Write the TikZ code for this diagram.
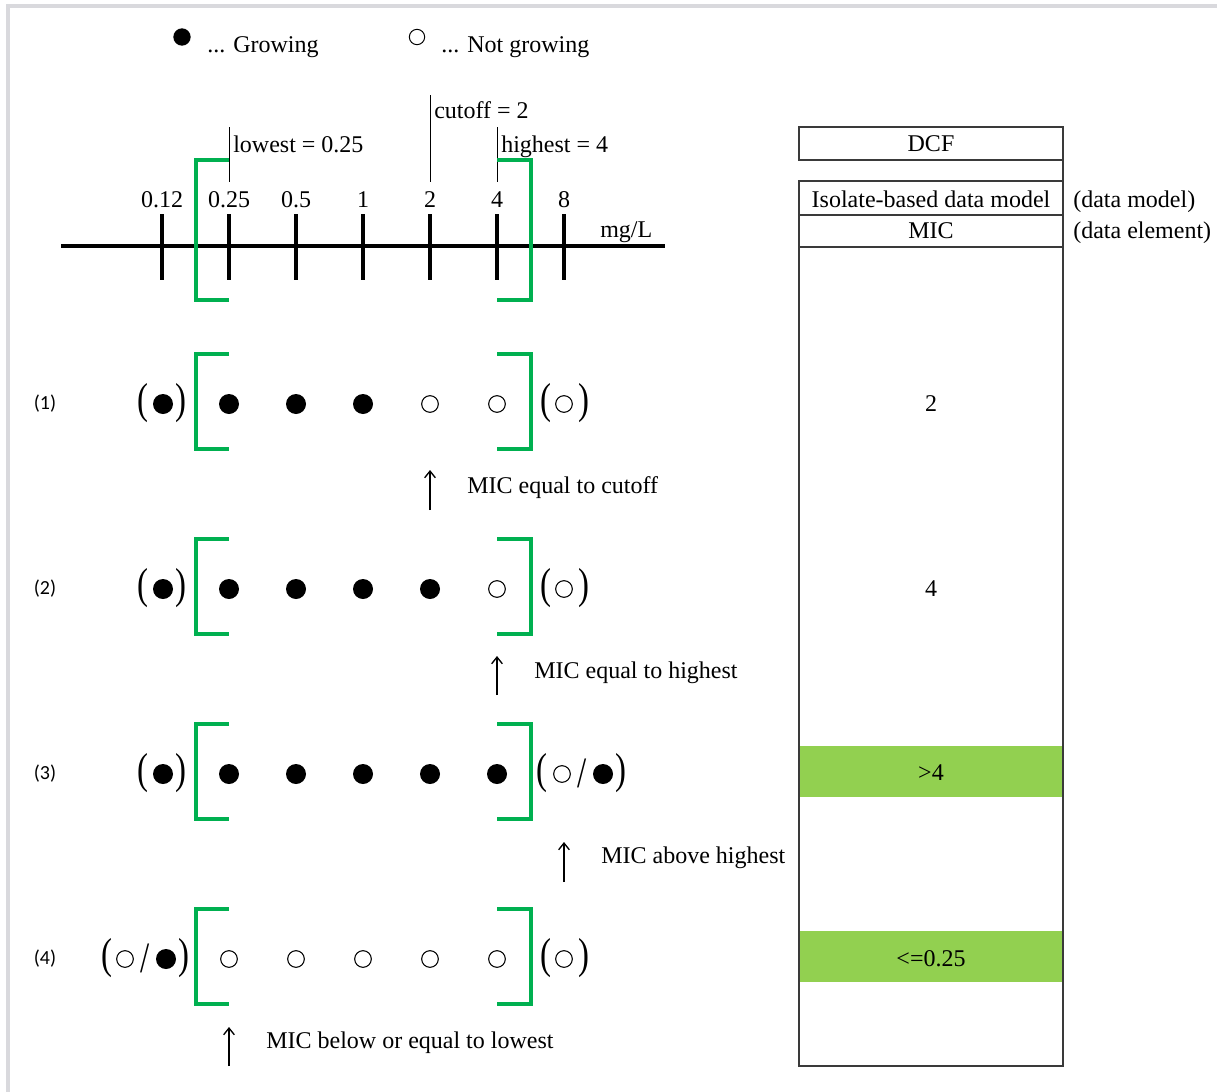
\documentclass[tikz,border=0pt]{standalone}
\usepackage{fontspec}
\setmainfont{Liberation Serif}
\newfontfamily\lblfont{Carlito}
\usetikzlibrary{arrows.meta}
\definecolor{brgreen}{HTML}{00B050}
\definecolor{bandgreen}{HTML}{92D050}
\definecolor{framegray}{HTML}{D9D9DD}
\definecolor{boxline}{HTML}{3A3A3A}
\newcommand{\tallglyph}[1]{\scalebox{0.85}[1.12]{#1}}
\begin{document}
\begin{tikzpicture}[x=0.75pt,y=-0.75pt,
  txt/.style={font=\fontsize{18}{20}\selectfont, inner sep=0pt},
  rowlbl/.style={font=\lblfont\fontsize{15}{17}\selectfont, inner sep=0pt},
  paren/.style={font=\fontsize{29}{31}\selectfont, inner sep=0pt},
  full/.style={circle, fill=black, minimum size=15pt, inner sep=0pt},
  hollow/.style={circle, draw=black, line width=0.8pt, minimum size=12.5pt, inner sep=0pt},
  tickline/.style={line width=3pt},
  bracket/.style={draw=brgreen, line width=3pt},
  marker/.style={line width=0.75pt},
  uparrow/.style={line width=1pt, -{Straight Barb[length=5pt,width=8pt]}},
  boxdraw/.style={draw=boxline, line width=1.1pt}
]
\useasboundingbox (0,0) rectangle (1217,1092);
% frame
\draw[framegray, line width=2.3pt] (8,1092) -- (8,6) -- (1217,6);

% legend
\node[full, minimum size=13pt] (lgfull) at (182,37) {};
\node[txt, anchor=base west] (lgfulltxt) at (207,52) {... Growing};
\node[hollow, minimum size=11.5pt, line width=0.75pt] (lghollow) at (417,37) {};
\node[txt, anchor=base west] (lghollowtxt) at (441,52) {... Not growing};

% axis
\coordinate (axL) at (61,246);
\coordinate (axR) at (665,246);
\draw[line width=2.3pt] (axL) -- (axR);
\foreach \i/\v in {0/0.12,1/0.25,2/0.5,3/1,4/2,5/4,6/8}{
  \pgfmathsetmacro{\xx}{162+67*\i}
  \node[txt, anchor=base] (tl\i) at (\xx,207) {\v};
  \coordinate (tt\i) at (\xx,214);
  \coordinate (tb\i) at (\xx,280);
  \draw[tickline] (tt\i) -- (tb\i);
}
\node[txt, anchor=base west] (unit) at (600,237) {mg/L};

% marker lines and labels
\coordinate (mlow) at (229,127);
\coordinate (mlowb) at (229,182);
\coordinate (mcut) at (430,95);
\coordinate (mcutb) at (430,182);
\coordinate (mhigh) at (497,127);
\coordinate (mhighb) at (497,182);
\draw[marker] (mlow) -- (mlowb);
\draw[marker] (mcut) -- (mcutb);
\draw[marker] (mhigh) -- (mhighb);
\node[txt, anchor=base west] (lowlbl) at (233,152) {lowest = 0.25};
\node[txt, anchor=base west] (cutlbl) at (434,118) {cutoff = 2};
\node[txt, anchor=base west] (highlbl) at (501,152) {highest = 4};

% axis brackets
\draw[bracket] (229,160) -- (196,160) -- (196,300) -- (229,300);
\draw[bracket] (497,160) -- (531,160) -- (531,300) -- (497,300);

% rows
\foreach \r/\yy in {1/404,2/589,3/774,4/959}{
  \node[rowlbl] (rl\r) at (45,\yy) {(\r)};
  \draw[bracket] (229,\yy-50) -- (196,\yy-50) -- (196,\yy+45) -- (229,\yy+45);
  \draw[bracket] (497,\yy-50) -- (531,\yy-50) -- (531,\yy+45) -- (497,\yy+45);
}

% row 1
\node[paren] (r1lo) at (143,403) {\tallglyph{(}};
\node[full] (r1l) at (163,404) {};
\node[paren] (r1lc) at (181,403) {\tallglyph{)}};
\node[full] (r1a) at (229,404) {};
\node[full] (r1b) at (296,404) {};
\node[full] (r1c) at (363,404) {};
\node[hollow] (r1d) at (430,404) {};
\node[hollow] (r1e) at (497,404) {};
\node[paren] (r1ro) at (546,403) {\tallglyph{(}};
\node[hollow] (r1r) at (564,404) {};
\node[paren] (r1rc) at (584,403) {\tallglyph{)}};

% row 2
\node[paren] (r2lo) at (143,588) {\tallglyph{(}};
\node[full] (r2l) at (163,589) {};
\node[paren] (r2lc) at (181,588) {\tallglyph{)}};
\node[full] (r2a) at (229,589) {};
\node[full] (r2b) at (296,589) {};
\node[full] (r2c) at (363,589) {};
\node[full] (r2d) at (430,589) {};
\node[hollow] (r2e) at (497,589) {};
\node[paren] (r2ro) at (546,588) {\tallglyph{(}};
\node[hollow] (r2r) at (564,589) {};
\node[paren] (r2rc) at (584,588) {\tallglyph{)}};

% row 3
\node[paren] (r3lo) at (143,773) {\tallglyph{(}};
\node[full] (r3l) at (163,774) {};
\node[paren] (r3lc) at (181,773) {\tallglyph{)}};
\node[full] (r3a) at (229,774) {};
\node[full] (r3b) at (296,774) {};
\node[full] (r3c) at (363,774) {};
\node[full] (r3d) at (430,774) {};
\node[full] (r3e) at (497,774) {};
\node[paren] (r3ro) at (542,773) {\tallglyph{(}};
\node[hollow] (r3r1) at (562,774) {};
\node[paren] (r3sl) at (582,773) {\tallglyph{/}};
\node[full] (r3r2) at (603,774) {};
\node[paren] (r3rc) at (621,773) {\tallglyph{)}};

% row 4
\node[paren] (r4lo) at (107,958) {\tallglyph{(}};
\node[hollow] (r4l1) at (125,959) {};
\node[paren] (r4sl) at (145,958) {\tallglyph{/}};
\node[full] (r4l2) at (166,959) {};
\node[paren] (r4lc) at (184,958) {\tallglyph{)}};
\node[hollow] (r4a) at (229,959) {};
\node[hollow] (r4b) at (296,959) {};
\node[hollow] (r4c) at (363,959) {};
\node[hollow] (r4d) at (430,959) {};
\node[hollow] (r4e) at (497,959) {};
\node[paren] (r4ro) at (546,958) {\tallglyph{(}};
\node[hollow] (r4r) at (564,959) {};
\node[paren] (r4rc) at (584,958) {\tallglyph{)}};

% arrows and their labels
\coordinate (a1s) at (430,510); \coordinate (a1e) at (430,470);
\coordinate (a2s) at (497,695); \coordinate (a2e) at (497,656);
\coordinate (a3s) at (564,882); \coordinate (a3e) at (564,842);
\coordinate (a4s) at (229,1066); \coordinate (a4e) at (229,1027);
\draw[uparrow] (a1s) -- (a1e);
\draw[uparrow] (a2s) -- (a2e);
\draw[uparrow] (a3s) -- (a3e);
\draw[uparrow] (a4s) -- (a4e);
\node[txt, anchor=base west] (a1t) at (467,493) {MIC equal to cutoff};
\node[txt, anchor=base west] (a2t) at (534,678) {MIC equal to highest};
\node[txt, anchor=base west] (a3t) at (601,863) {MIC above highest};
\node[txt, anchor=base west] (a4t) at (266,1048) {MIC below or equal to lowest};

% table
\fill[bandgreen] (799,746) rectangle (1063,797);
\fill[bandgreen] (799,931) rectangle (1063,982);
\draw[boxdraw] (799,127) rectangle (1063,160);
\draw[boxdraw] (1063,160) -- (1063,181);
\draw[boxdraw] (799,181) rectangle (1063,1066);
\draw[boxdraw] (799,215) -- (1063,215);
\draw[boxdraw] (799,247) -- (1063,247);
\node[txt, anchor=base] (dcf) at (931,151) {DCF};
\node[txt, anchor=base] (idm) at (931,207) {Isolate-based data model};
\node[txt, anchor=base] (mic) at (931,238) {MIC};
\node[txt, anchor=base west] (dm) at (1073,207) {(data model)};
\node[txt, anchor=base west] (de) at (1073,238) {(data element)};
\node[txt, anchor=base] (v1) at (931,411) {2};
\node[txt, anchor=base] (v2) at (931,596) {4};
\node[txt, anchor=base] (v3) at (931,780) {>4};
\node[txt, anchor=base] (v4) at (931,966) {<=0.25};
\end{tikzpicture}
\end{document}
